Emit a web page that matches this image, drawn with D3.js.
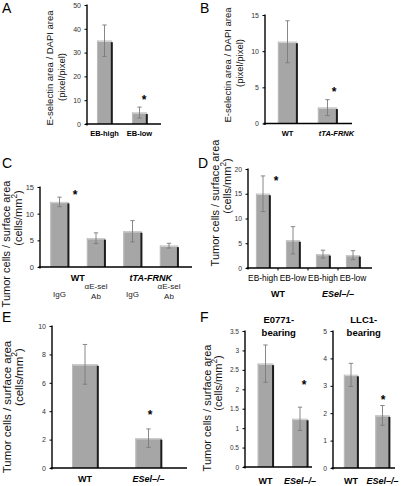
<!DOCTYPE html>
<html><head><meta charset="utf-8">
<script src="https://cdn.jsdelivr.net/npm/d3@7"></script>
<style>
body{margin:0;background:#fff}
svg{display:block}
text{font-family:"Liberation Sans",Arial,sans-serif}
</style>
</head><body>
<svg id="fig" width="404" height="486"></svg>
<script>
// ---------------- DATA ----------------
const aCategories = ["EB-high", "EB-low"];
const aValues = [35.0, 4.8];
const aErrors = [6.6, 2.3];
const aTicks = [0, 10, 20, 30, 40, 50];

const bCategories = ["WT", "tTA-FRNK"];
const bValues = [11.3, 2.2];
const bErrors = [2.9, 1.1];
const bTicks = [0, 5, 10, 15];

const cCategories = ["IgG", "αE-sel Ab", "IgG ", "αE-sel Ab "];
const cGroups = ["WT", "tTA-FRNK"];
const cValues = [12.2, 5.4, 6.7, 4.0];
const cErrors = [0.9, 1.0, 2.0, 0.45];
const cTicks = [0, 5, 10, 15];

const dCategories = ["EB-high", "EB-low", "EB-high ", "EB-low "];
const dGroups = ["WT", "ESel–/–"];
const dValues = [15.0, 5.6, 2.8, 2.6];
const dErrors = [3.6, 2.75, 0.8, 0.9];
const dTicks = [0, 5, 10, 15, 20];

const eCategories = ["WT", "ESel–/–"];
const eValues = [7.3, 2.1];
const eErrors = [1.4, 0.65];
const eTicks = [0, 2, 4, 6, 8, 10];

const f1Title = ["E0771-", "bearing"];
const f1Categories = ["WT", "ESel–/–"];
const f1Values = [2.66, 1.24];
const f1Errors = [0.48, 0.30];
const f1Ticks = [0, 0.5, 1, 1.5, 2, 2.5, 3, 3.5];

const f2Title = ["LLC1-", "bearing"];
const f2Categories = ["WT", "ESel–/–"];
const f2Values = [3.40, 1.92];
const f2Errors = [0.42, 0.36];
const f2Ticks = [0, 1, 2, 3, 4, 5];

const yLabelPixel = ["E-selectin area / DAPI area", "(pixel/pixel)"];
const yLabelCells = ["Tumor cells / surface area", "(cells/mm", "2", ")"];

// ---------------- DRAWING ----------------
const svg = d3.select("#fig");
const BAR = "#a6a6a6", BAR_LIGHT = "#d0d0d0", SHADOW = "#1c1c1c", ERR = "#7a7a7a";

function panel(p) {
  const g = svg.append("g");
  const y = d3.scaleLinear().domain([p.ticks[0], p.ticks[p.ticks.length - 1]]).range(p.yRange);
  const x = d3.scaleBand().domain(p.cats).range(p.band).paddingInner(p.pad).paddingOuter(p.pad / 2);
  const bw = x.bandwidth();
  const base = y(0);

  const bars = g.selectAll("g.bar").data(p.values).enter().append("g");
  bars.append("rect")
    .attr("x", (d, i) => x(p.cats[i])).attr("y", d => y(d))
    .attr("width", bw).attr("height", d => base - y(d))
    .attr("fill", BAR);
  bars.append("rect")
    .attr("x", (d, i) => x(p.cats[i])).attr("y", d => y(d))
    .attr("width", bw).attr("height", 1.3).attr("fill", BAR_LIGHT);
  bars.append("rect")
    .attr("x", (d, i) => x(p.cats[i])).attr("y", d => y(d))
    .attr("width", 1).attr("height", d => base - y(d)).attr("fill", "#bdbdbd");
  bars.append("rect")
    .attr("x", (d, i) => x(p.cats[i]) + bw - 1.2).attr("y", d => y(d) + 1.5)
    .attr("width", 2).attr("height", d => base - y(d) - 1.5).attr("fill", SHADOW);

  const cap = 2.2;
  p.values.forEach((v, i) => {
    const cx = x(p.cats[i]) + bw / 2;
    const hi = y(v + p.errors[i]), lo = y(v - p.errors[i]);
    g.append("line").attr("x1", cx).attr("x2", cx).attr("y1", hi).attr("y2", lo).attr("stroke", ERR).attr("stroke-width", 0.9);
    g.append("line").attr("x1", cx - cap).attr("x2", cx + cap).attr("y1", hi).attr("y2", hi).attr("stroke", ERR).attr("stroke-width", 0.9);
    g.append("line").attr("x1", cx - cap).attr("x2", cx + cap).attr("y1", lo).attr("y2", lo).attr("stroke", ERR).attr("stroke-width", 0.9);
  });

  const ax = g.append("g").attr("transform", `translate(${p.axisX},0)`)
    .call(d3.axisLeft(y).tickValues(p.ticks).tickSize(2.5).tickSizeOuter(0).tickPadding(3.5)
      .tickFormat(d => String(d)));
  ax.select(".domain").remove();
  ax.selectAll(".tick line").attr("stroke", "#000").attr("stroke-width", 1);
  ax.selectAll(".tick text").attr("font-size", p.tickFont).attr("fill", "#333")
    .attr("font-family", "Liberation Sans, Arial, sans-serif");
  g.append("line").attr("x1", p.axisX).attr("x2", p.axisX)
    .attr("y1", p.yRange[1] - 0.5).attr("y2", base + 1.5).attr("stroke", "#000").attr("stroke-width", 1.4);
  g.append("line").attr("x1", p.axisX - 1.5).attr("x2", p.axisEnd)
    .attr("y1", base).attr("y2", base).attr("stroke", "#000").attr("stroke-width", 1.4);
  if (p.xTicks) {
    p.cats.slice(1).forEach(c => {
      const tx = x(c) - x.step() * x.paddingInner() / 2;
      g.append("line").attr("x1", tx).attr("x2", tx).attr("y1", base).attr("y2", base + 2.5)
        .attr("stroke", "#000").attr("stroke-width", 1);
    });
  }

  if (p.catLabels) {
    p.cats.forEach((c, i) => {
      const lab = p.catLabels[i];
      const cx = x(c) + bw / 2 + (lab.dx || 0);
      const t = g.append("text").attr("x", cx).attr("y", lab.y)
        .attr("text-anchor", "middle").attr("font-size", lab.size)
        .attr("font-weight", lab.bold ? "bold" : "normal")
        .attr("font-style", lab.italic ? "italic" : "normal").attr("fill", lab.color || "#000");
      lab.lines.forEach((ln, k) => t.append("tspan").attr("x", cx).attr("dy", k === 0 ? 0 : lab.lh).text(ln));
    });
  }
  if (p.groups) {
    p.groups.forEach((gr, k) => {
      const c0 = p.cats[2 * k], c1 = p.cats[2 * k + 1];
      const gx = (x(c0) + x(c1) + bw) / 2;
      g.append("text").attr("x", gx + (p.groupDx || 0)).attr("y", p.groupY).attr("text-anchor", "middle")
        .attr("font-size", p.groupSize).attr("font-weight", "bold")
        .attr("font-style", k === 1 ? "italic" : "normal").text(gr);
    });
  }

  if (p.star) {
    const s = p.star, i = s.index;
    const sx = x(p.cats[i]) + bw / 2 + s.dx;
    const sy = y(p.values[i] + p.errors[i]) - s.dy;
    g.append("text").attr("x", sx).attr("y", sy + 0.55 * 12).attr("text-anchor", "middle")
      .attr("font-size", 12).attr("font-weight", "bold").text("*");
  }

  if (p.title) {
    p.title.forEach((t, k) => {
      g.append("text").attr("x", (p.band[0] + p.band[1]) / 2 + (p.titleDx || 0)).attr("y", p.titleY + k * 12.5)
        .attr("text-anchor", "middle").attr("font-size", 9.5).attr("font-weight", "bold").text(t);
    });
  }

  if (p.yLabel) {
    const L = p.yLabel;
    g.append("text").attr("transform", `translate(${L.x1},${L.c1}) rotate(-90)`)
      .attr("text-anchor", "middle").attr("font-size", L.size).attr("fill", "#111").text(L.lines[0]);
    const t2 = g.append("text").attr("transform", `translate(${L.x2},${L.c2}) rotate(-90)`)
      .attr("text-anchor", "middle").attr("font-size", L.size).attr("fill", "#111");
    if (L.lines.length === 2) t2.text(L.lines[1]);
    else {
      t2.append("tspan").text(L.lines[1]);
      t2.append("tspan").attr("dy", -L.size * 0.45).attr("font-size", L.size * 0.75).text(L.lines[2]);
      t2.append("tspan").attr("dy", L.size * 0.45).text(L.lines[3]);
    }
  }

  if (p.letter[0]) svg.append("text").attr("x", p.letter[1]).attr("y", p.letter[2]).attr("font-size", 14).text(p.letter[0]);
}

const lab = (lines, y, size, bold, italic, lh, dx, color) => ({lines, y, size, bold, italic, lh: lh || 0, dx, color});

panel({
  letter: ["A", 2, 13], cats: aCategories, values: aValues, errors: aErrors, ticks: aTicks,
  yRange: [124, 5], axisX: 87, band: [87, 157], pad: 0.57, axisEnd: 161, tickFont: 7,
  catLabels: aCategories.map(c => lab([c], 136, 7.5, true)),
  star: {index: 1, dx: 4.5, dy: 10},
  yLabel: {lines: yLabelPixel, x1: 53, c1: 68, x2: 64.5, c2: 77, size: 9.5}
});

panel({
  letter: ["B", 200, 13], cats: bCategories, values: bValues, errors: bErrors, ticks: bTicks,
  yRange: [123.5, 15], axisX: 265, band: [267.5, 347.5], pad: 0.52, axisEnd: 352, tickFont: 7,
  catLabels: [lab(["WT"], 136, 7.5, true, false), lab(["tTA-FRNK"], 136, 7.5, true, true, 0, 9)],
  star: {index: 1, dx: 6.5, dy: 10},
  yLabel: {lines: yLabelPixel, x1: 231, c1: 65, x2: 242.5, c2: 63, size: 9.5}
});

panel({
  letter: ["C", 2, 168], cats: cCategories, values: cValues, errors: cErrors, ticks: cTicks,
  yRange: [267, 187], axisX: 40, band: [41.25, 187.25], pad: 0.5, axisEnd: 192, tickFont: 7.5,
  catLabels: cCategories.map(c => c.trim() === "IgG" ? lab(["IgG"], 297, 8, false, false, 0, 0, "#222") : lab(["αE-sel", "Ab"], 289, 8, false, false, 10, 0, "#222")),
  groups: cGroups, groupY: 280.5, groupSize: 9,
  star: {index: 0, dx: 15.5, dy: 5},
  yLabel: {lines: yLabelCells, x1: 10, c1: 244, x2: 22, c2: 218, size: 11}
});

panel({
  letter: ["D", 198, 168], cats: dCategories, values: dValues, errors: dErrors, ticks: dTicks,
  yRange: [268, 169], axisX: 248, band: [248, 368], pad: 0.53, axisEnd: 372, tickFont: 6.8,
  xTicks: true,
  catLabels: dCategories.map(c => lab([c.trim()], 280.5, 8.4, false)),
  groups: dGroups, groupY: 296.5, groupSize: 9,
  star: {index: 0, dx: 13, dy: -2},
  yLabel: {lines: yLabelCells, x1: 219, c1: 203, x2: 230.5, c2: 186, size: 11}
});

panel({
  letter: ["E", 2, 322], cats: eCategories, values: eValues, errors: eErrors, ticks: eTicks,
  yRange: [468, 326], axisX: 52, band: [53.25, 180.25], pad: 0.59, axisEnd: 187, tickFont: 7,
  catLabels: [lab(["WT"], 482, 9, true, false), lab(["ESel–/–"], 482, 9, true, true)],
  star: {index: 1, dx: 1.5, dy: 17},
  yLabel: {lines: yLabelCells, x1: 11, c1: 407, x2: 22.5, c2: 377, size: 11.5}
});

panel({
  letter: ["F", 200, 322], cats: f1Categories, values: f1Values, errors: f1Errors, ticks: f1Ticks,
  yRange: [467, 331], axisX: 245, band: [248.25, 317.25], pad: 0.55, axisEnd: 312, tickFont: 6.5,
  catLabels: [lab(["WT"], 484, 9, true, false), lab(["ESel–/–"], 484, 9, true, true)],
  title: f1Title, titleY: 323, titleDx: -4,
  star: {index: 1, dx: 4, dy: 25},
  yLabel: {lines: yLabelCells, x1: 211, c1: 408, x2: 222, c2: 383, size: 11}
});

panel({
  letter: ["", 0, 0], cats: f2Categories, values: f2Values, errors: f2Errors, ticks: f2Ticks,
  yRange: [468, 331], axisX: 333, band: [335.25, 398.25], pad: 0.55, axisEnd: 395, tickFont: 6.8,
  catLabels: [lab(["WT"], 484, 9, true, false), lab(["ESel–/–"], 484, 9, true, true)],
  title: f2Title, titleY: 323, titleDx: -3,
  star: {index: 1, dx: 0.5, dy: 8}
});
</script>
</body></html>
